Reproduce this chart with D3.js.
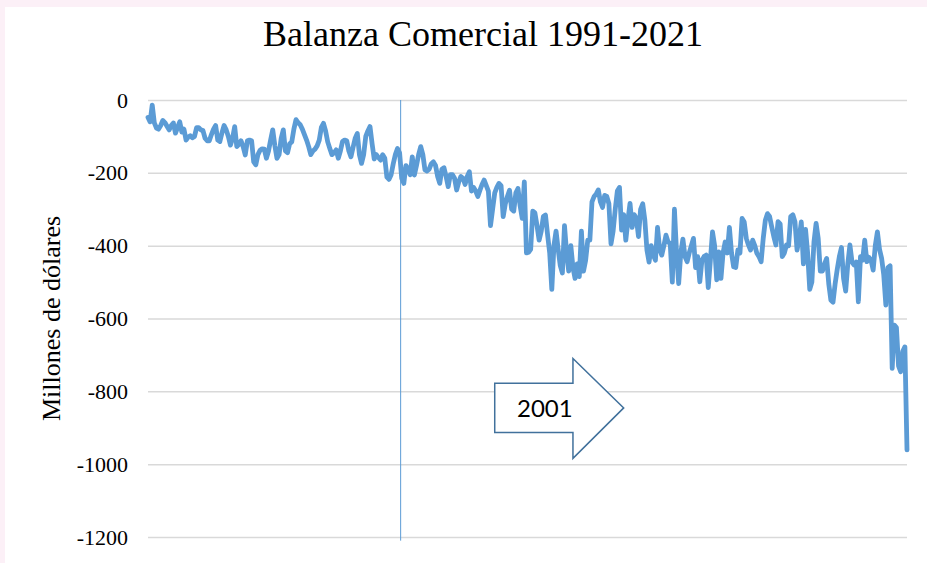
<!DOCTYPE html>
<html>
<head>
<meta charset="utf-8">
<script src="https://cdn.jsdelivr.net/npm/d3@7"></script>
<style>
  html, body { margin: 0; padding: 0; background: #fcf0f7; }
  #chart { width: 927px; height: 563px; }
</style>
</head>
<body>
<div id="chart"></div>
<script>
const title = "Balanza Comercial 1991-2021";
const yLabel = "Millones de dólares";
const yTicks = [0, -200, -400, -600, -800, -1000, -1200];
const years = d3.range(1991, 2021);
const markYear = 2001;

// monthly values, one row per year (millones de dólares)
const balanza = [
  -48, -60, -14, -63, -77, -80, -70, -56, -62, -72, -82, -70,         // 1991
  -63, -91, -75, -60, -88, -80, -110, -102, -98, -104, -100, -76,     // 1992
  -76, -82, -84, -105, -112, -112, -95, -80, -70, -110, -114, -90,    // 1993
  -70, -82, -100, -124, -105, -73, -128, -122, -112, -128, -151, -112, // 1994
  -110, -112, -170, -178, -150, -138, -134, -135, -160, -140, -110, -82, // 1995
  -125, -160, -150, -105, -82, -140, -145, -120, -115, -80, -54, -62, // 1996
  -68, -80, -95, -110, -128, -150, -140, -135, -126, -110, -75, -64,  // 1997
  -85, -115, -133, -150, -145, -137, -160, -140, -114, -110, -112, -140, // 1998
  -156, -130, -105, -92, -150, -174, -150, -100, -85, -73, -120, -162, // 1999
  -150, -158, -165, -150, -160, -212, -218, -205, -175, -150, -133, -145, // 2000
  -215, -229, -180, -190, -205, -156, -206, -180, -150, -128, -150, -192, // 2001
  -195, -190, -175, -170, -180, -210, -229, -190, -186, -210, -238, -205, // 2002
  -205, -215, -247, -225, -210, -215, -232, -210, -197, -250, -240, -250, // 2003
  -265, -248, -232, -220, -235, -250, -345, -300, -255, -240, -229, -235, // 2004
  -320, -285, -265, -248, -300, -305, -255, -243, -290, -325, -225, -420, // 2005
  -418, -410, -305, -310, -345, -385, -360, -320, -316, -370, -420, -520, // 2006
  -400, -360, -410, -455, -475, -345, -420, -470, -400, -460, -490, -450, // 2007
  -485, -360, -470, -440, -385, -385, -280, -265, -258, -247, -280, -295, // 2008
  -262, -265, -285, -395, -360, -300, -250, -240, -357, -315, -385, -330, // 2009
  -284, -350, -315, -325, -375, -300, -285, -330, -412, -445, -400, -425, // 2010
  -440, -350, -410, -426, -400, -371, -390, -394, -500, -300, -420, -504, // 2011
  -420, -382, -430, -444, -420, -400, -380, -460, -430, -499, -440, -430, // 2012
  -426, -515, -440, -362, -400, -494, -417, -490, -420, -390, -420, -350, // 2013
  -420, -458, -460, -412, -420, -325, -335, -380, -398, -412, -385, -400, // 2014
  -421, -430, -444, -380, -330, -312, -320, -348, -375, -398, -334, -340, // 2015
  -430, -420, -398, -400, -320, -315, -334, -412, -380, -335, -450, -355, // 2016
  -420, -520, -500, -390, -339, -380, -470, -470, -450, -435, -505, -550, // 2017
  -555, -505, -465, -430, -405, -490, -525, -450, -398, -445, -453, -445, // 2018
  -554, -430, -440, -385, -444, -432, -440, -467, -400, -362, -410, -435, // 2019
  -480, -563, -460, -455, -737, -618, -625, -730, -746, -690, -678, -961  // 2020
];

// block arrow annotation, in data units (month index, value)
const arrowX = [164, 201, 225];          // body left, head base, tip
const arrowY = [-778, -913, -710, -984]; // body top, body bottom, head top, head bottom
const arrowText = "2001";

const width = 927;
const height = 563;
const margin = { top: 100, right: 20, bottom: 26, left: 148 };

const svg = d3
  .select("#chart")
  .append("svg")
  .attr("width", width)
  .attr("height", height)
  .style("display", "block");

svg.append("rect")
  .attr("x", 5)
  .attr("y", 7)
  .attr("width", width - 5)
  .attr("height", height - 7)
  .attr("fill", "white");

const x = d3.scaleLinear()
  .domain([0, balanza.length - 1])
  .range([margin.left, width - margin.right]);

const y = d3.scaleLinear()
  .domain([-1200, 0])
  .range([height - margin.bottom, margin.top]);

// grid + tick labels
const yAxis = svg.append("g")
  .attr("transform", `translate(${margin.left},0)`)
  .call(
    d3.axisLeft(y)
      .tickValues(yTicks)
      .tickSize(-(width - margin.right - margin.left))
      .tickPadding(20)
      .tickFormat((d) => d.toString())
  );
yAxis.select(".domain").remove();
yAxis.selectAll(".tick line")
  .attr("stroke", "#d9d9d9")
  .attr("stroke-width", 1.5);
yAxis.selectAll(".tick text")
  .attr("fill", "#000")
  .style("font", "22px 'Liberation Serif', 'Times New Roman', serif");

// vertical marker at 2001
const markIndex = years.indexOf(markYear) * 12 - 0.5;
svg.append("line")
  .attr("x1", x(markIndex))
  .attr("x2", x(markIndex))
  .attr("y1", y(0))
  .attr("y2", y(-1210))
  .attr("stroke", "#5b9bd5")
  .attr("stroke-width", 1);

// series line
const line = d3.line()
  .x((d, i) => x(i))
  .y((d) => y(d));

svg.append("path")
  .datum(balanza)
  .attr("fill", "none")
  .attr("stroke", "#5b9bd5")
  .attr("stroke-width", 4.8)
  .attr("stroke-linejoin", "round")
  .attr("stroke-linecap", "round")
  .attr("d", line);

// arrow annotation
const midY = (arrowY[0] + arrowY[1]) / 2;
const arrowPts = [
  [arrowX[0], arrowY[0]],
  [arrowX[1], arrowY[0]],
  [arrowX[1], arrowY[2]],
  [arrowX[2], midY],
  [arrowX[1], arrowY[3]],
  [arrowX[1], arrowY[1]],
  [arrowX[0], arrowY[1]]
];
svg.append("polygon")
  .attr("points", arrowPts.map((p) => [x(p[0]), y(p[1])].join(",")).join(" "))
  .attr("fill", "white")
  .attr("stroke", "#41719c")
  .attr("stroke-width", 1.5);

svg.append("text")
  .attr("x", (x(arrowX[0]) + x(arrowX[1])) / 2 + 11)
  .attr("y", y(midY) + 9)
  .attr("text-anchor", "middle")
  .style("font", "24px Lato, 'Open Sans', sans-serif")
  .attr("fill", "#000")
  .text(arrowText);

// title
svg.append("text")
  .attr("x", 483)
  .attr("y", 46)
  .attr("text-anchor", "middle")
  .style("font", "36px 'Liberation Serif', 'Times New Roman', serif")
  .attr("fill", "#000")
  .text(title);

// y axis title
svg.append("text")
  .attr("transform", `translate(60,${(y(-200) + y(-1000)) / 2}) rotate(-90)`)
  .attr("text-anchor", "middle")
  .style("font", "26px 'Liberation Serif', 'Times New Roman', serif")
  .attr("fill", "#000")
  .text(yLabel);
</script>
</body>
</html>
